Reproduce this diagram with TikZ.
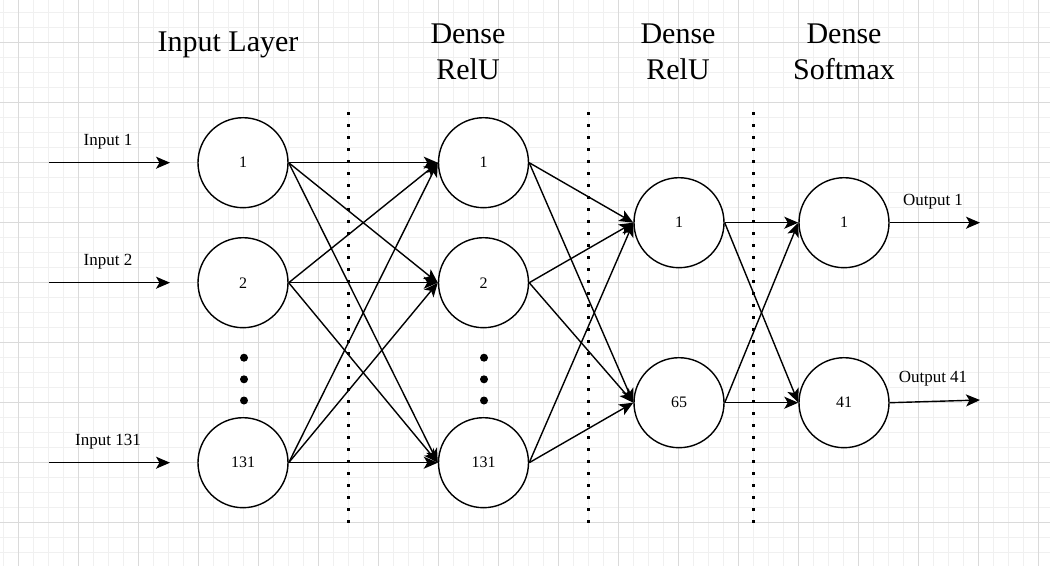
\documentclass[tikz,border=0pt]{standalone}
\usepackage{fontspec}
\setmainfont{Liberation Serif}
\usetikzlibrary{arrows.meta}
\begin{document}
\begin{tikzpicture}[x=1pt,y=-1pt,
  neuron/.style={circle,draw=black,line width=1.4pt,fill=white,minimum size=90pt,inner sep=0pt,font=\fontsize{16}{16}\selectfont},
  conn/.style={line width=1.4pt,-{Stealth[length=14pt,width=12pt,inset=3.5pt]}},
  sep/.style={line width=3pt,dash pattern=on 3pt off 9pt,black},
  title/.style={font=\fontsize{30}{36}\selectfont,align=center,inner sep=0pt},
  lab/.style={font=\fontsize{17}{17}\selectfont,inner sep=0pt},
  bigdot/.style={circle,fill=black,minimum size=8pt,inner sep=0pt}]
\useasboundingbox (0,0) rectangle (1050,566);
\fill[white] (0,0) rectangle (1050,566);
% minor grid
\foreach \i in {0,...,70} {\draw[line width=0.8pt,color={rgb,255:red,240;green,240;blue,240}] ({18-15+15*\i},0) -- ({18-15+15*\i},566);}
\foreach \j in {0,...,38} {\draw[line width=0.8pt,color={rgb,255:red,240;green,240;blue,240}] (0,{12.7+15*\j}) -- (1050,{12.7+15*\j});}
% major grid
\foreach \i in {0,...,17} {\draw[line width=0.8pt,color={rgb,255:red,218;green,218;blue,218}] ({18+60*\i},0) -- ({18+60*\i},566);}
\foreach \j in {0,...,9} {\draw[line width=0.8pt,color={rgb,255:red,218;green,218;blue,218}] (0,{42.7+60*\j}) -- (1050,{42.7+60*\j});}

% titles
\node[title] (t1) at (228,45) {Input Layer};
\node[title] (t2) at (468,52) {Dense\\RelU};
\node[title] (t3) at (678,52) {Dense\\RelU};
\node[title] (t4) at (844,52) {Dense\\Softmax};

% separators
\coordinate (s1a) at (348.3,112); \coordinate (s1b) at (348.3,523);
\coordinate (s2a) at (588.3,112); \coordinate (s2b) at (588.3,523);
\coordinate (s3a) at (753.3,112); \coordinate (s3b) at (753.3,523);
\draw[sep] (s1a) -- (s1b);
\draw[sep] (s2a) -- (s2b);
\draw[sep] (s3a) -- (s3b);

% neurons
\node[neuron] (a1) at (243,162.7) {1};
\node[neuron] (a2) at (243,282.7) {2};
\node[neuron] (a3) at (243,462.7) {131};
\node[neuron] (b1) at (483.5,162.7) {1};
\node[neuron] (b2) at (483.5,282.7) {2};
\node[neuron] (b3) at (483.5,462.7) {131};
\node[neuron] (c1) at (679,222.7) {1};
\node[neuron] (c2) at (679,402.7) {65};
\node[neuron] (d1) at (844,222.7) {1};
\node[neuron] (d2) at (844,402.7) {41};

% dots
\node[bigdot] (da1) at (244,357.7) {};
\node[bigdot] (da2) at (244,379.3) {};
\node[bigdot] (da3) at (244,400.5) {};
\node[bigdot] (db1) at (484,357.7) {};
\node[bigdot] (db2) at (484,379.3) {};
\node[bigdot] (db3) at (484,400.5) {};

% inputs
\coordinate (i1) at (49,162.7);
\coordinate (i2) at (49,282.7);
\coordinate (i3) at (49,462.7);
\coordinate (i1e) at (170,162.7);
\coordinate (i2e) at (170,282.7);
\coordinate (i3e) at (170,462.7);
\draw[conn] (i1) -- (i1e);
\draw[conn] (i2) -- (i2e);
\draw[conn] (i3) -- (i3e);
\node[lab] (li1) at (108,141.5) {Input 1};
\node[lab] (li2) at (108,261.5) {Input 2};
\node[lab] (li3) at (108,441.5) {Input 131};

% layer 1 -> 2
\foreach \s in {a1,a2,a3} {\foreach \t in {b1,b2,b3} {\draw[conn] (\s.east) -- (\t.west);}}
% layer 2 -> 3
\foreach \s in {b1,b2,b3} {\foreach \t in {c1,c2} {\draw[conn] (\s.east) -- (\t.west);}}
% layer 3 -> 4
\foreach \s in {c1,c2} {\foreach \t in {d1,d2} {\draw[conn] (\s.east) -- (\t.west);}}

% outputs
\coordinate (o1) at (980,222.7);
\coordinate (o2) at (980,400);
\draw[conn] (d1.east) -- (o1);
\draw[conn] (d2.east) -- (o2);
\node[lab] (lo1) at (933,201.5) {Output 1};
\node[lab] (lo2) at (933,378.5) {Output 41};
\end{tikzpicture}
\end{document}
